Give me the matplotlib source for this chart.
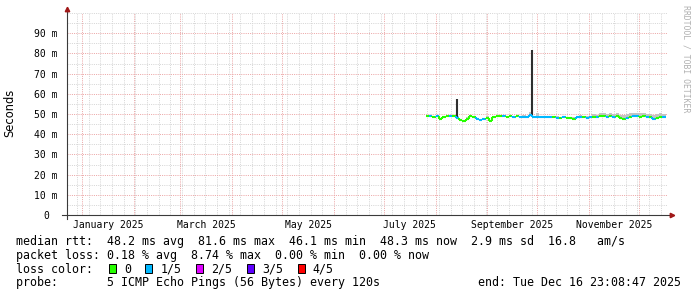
import numpy as np
import pandas as pd
import matplotlib
matplotlib.use("Agg")
import matplotlib.pyplot as plt
import matplotlib.dates as mdates
from matplotlib.ticker import MultipleLocator
from matplotlib.patches import Rectangle
from matplotlib.transforms import blended_transform_factory

# --- data --------------------------------------------------------------
end_time = pd.Timestamp("2025-12-16 23:08:47")
view_start = end_time - pd.Timedelta(days=359)
view_end = end_time + pd.Timedelta(hours=19)

sample_start = "2025-07-26"   # first consolidated sample, 2 day steps
rtt_median = [48.9, 49.1, 48.7, 48.9, 47.4, 48.6, 49.0, 48.8, 49.0, 48.2,
              46.9, 46.5, 47.6, 48.9, 48.7, 47.3, 47.0, 47.4, 48.2, 46.3,
              48.6, 48.9, 48.8, 49.0, 48.7, 48.9, 48.6, 48.8, 48.5, 48.7,
              48.4, 49.3, 48.4, 48.5, 48.3, 48.4, 48.6, 48.3, 48.5, 48.2,
              48.0, 48.4, 47.8, 48.0, 47.6, 48.3, 48.6, 48.4, 48.2, 48.5,
              48.7, 48.3, 48.9, 49.0, 48.6, 48.9, 48.7, 48.8, 47.8, 47.5,
              48.2, 48.6, 48.8, 48.9, 48.7, 49.0, 48.5, 48.3, 47.3, 48.0,
              48.6, 48.3]
rtt_smoke = [49.4, 49.6, 49.2, 49.4, 48.2, 49.1, 49.5, 49.3, 49.5, 49.0,
             47.6, 47.2, 48.3, 49.4, 49.2, 48.0, 47.7, 48.1, 48.8, 47.1,
             49.1, 49.4, 49.3, 49.5, 49.2, 49.4, 49.1, 49.3, 49.0, 49.3,
             49.2, 51.0, 49.0, 50.6, 48.9, 49.0, 49.2, 48.9, 49.1, 48.8,
             48.7, 49.0, 48.5, 48.7, 48.3, 49.0, 49.4, 49.1, 48.9, 49.2,
             49.8, 49.6, 50.3, 50.5, 50.1, 50.4, 50.2, 50.5, 49.6, 49.4,
             50.0, 50.3, 50.4, 50.6, 50.3, 50.7, 50.2, 50.1, 49.5, 49.9,
             50.4, 49.8]
loss_level = [0, 1, 0, 1, 0, 0, 0, 1, 0, 1,
              0, 0, 0, 0, 0, 1, 1, 1, 0, 0,
              0, 0, 0, 1, 0, 0, 1, 0, 1, 1,
              1, 1, 1, 1, 1, 1, 1, 1, 0, 1,
              0, 1, 0, 0, 0, 1, 1, 0, 1, 1,
              0, 1, 0, 0, 1, 0, 1, 0, 0, 0,
              1, 0, 1, 1, 0, 0, 1, 0, 1, 0,
              0, 1]

spike_dates = ["2025-08-13 18:00", "2025-09-28 00:00"]
spike_bases = [47.5, 48.5]
spike_tops = [57.6, 81.6]

loss_labels = ["0", "1/5", "2/5", "3/5", "4/5"]
loss_colors = ["#26ff00", "#00b8ff", "#dd00ff", "#5e00ff", "#ff0000"]

month_labels = ["2025-01", "2025-03", "2025-05", "2025-07", "2025-09", "2025-11"]
y_ticks = [0, 10, 20, 30, 40, 50, 60, 70, 80, 90]

rtt_stats = [48.2, 81.6, 46.1, 48.3, 2.9, 16.8]
loss_stats = [0.18, 8.74, 0.00, 0.00]

# --- figure ---------------------------------------------------------------
W, H = 697, 297
fig = plt.figure(figsize=(W / 100, H / 100), dpi=100)
fig.patch.set_facecolor("white")
L, R, T, B = 67, 667, 13, 215
ax = fig.add_axes([L / W, 1 - B / H, (R - L) / W, (B - T) / H])
ax.set_facecolor("white")

mono = "DejaVu Sans Mono"

times = pd.date_range(sample_start, periods=len(rtt_median), freq="2D")
t = mdates.date2num(times)
t_edges = np.append(t, t[-1] + 2)

# smoke
ax.fill_between(t_edges, np.append(rtt_median, rtt_median[-1]),
                np.append(rtt_smoke, rtt_smoke[-1]), step="post",
                color="#c4c4c4", lw=0, zorder=2)
ax.vlines(mdates.date2num(pd.to_datetime(spike_dates)), spike_bases, spike_tops,
          color="#2e2e2e", lw=1.5, zorder=3)

# median line coloured by loss
for i, v in enumerate(rtt_median):
    c = loss_colors[loss_level[i]]
    ax.plot([t_edges[i], t_edges[i + 1]], [v, v], color=c, lw=1.5,
            solid_capstyle="butt", zorder=4)
    if i > 0:
        ax.plot([t_edges[i], t_edges[i]], [rtt_median[i - 1], v], color=c,
                lw=1.5, solid_capstyle="butt", zorder=4)

ax.set_xlim(mdates.date2num(view_start), mdates.date2num(view_end))
ax.set_ylim(0, 100)

# grid
ax.xaxis.set_major_locator(mdates.MonthLocator())
ax.xaxis.set_minor_locator(mdates.WeekdayLocator(byweekday=mdates.SU))
ax.set_yticks(y_ticks)
ax.yaxis.set_minor_locator(MultipleLocator(5))
dots = (0, (1, 1.2))
ax.grid(which="minor", color="#d6d6d6", ls=dots, lw=0.72)
ax.grid(which="major", color="#eca6a6", ls=dots, lw=0.72)
ax.set_axisbelow(True)
ax.set_xticklabels([])
ax.tick_params(which="both", length=0)
ax.set_yticklabels([f"{v} m" if v else "0" for v in y_ticks],
                   fontfamily=mono, fontsize=7)
ax.tick_params(axis="y", pad=15)
for lab in ax.get_yticklabels():
    lab.set_horizontalalignment("center")
for s in ax.spines.values():
    s.set_visible(False)

# axes with arrows
axc = "#3a3a3a"
arrow = "#a01818"
ax.plot([-5 / 600, 1 + 3 / 600], [0, 0], transform=ax.transAxes,
        clip_on=False, color=axc, lw=0.8, zorder=5)
ax.plot([0, 0], [-4 / 202, 1 + 2 / 202], transform=ax.transAxes,
        clip_on=False, color=axc, lw=0.8, zorder=5)
ax.plot([1 + 5 / 600], [0], marker=">", ms=3.2, color=arrow,
        transform=ax.transAxes, clip_on=False, zorder=6)
ax.plot([0], [1 + 4 / 202], marker="^", ms=3.2, color=arrow,
        transform=ax.transAxes, clip_on=False, zorder=6)

# month labels centred on the month
trans = blended_transform_factory(ax.transData, ax.transAxes)
for m in month_labels:
    m0 = pd.Timestamp(m + "-01")
    mid = m0 + (m0 + pd.offsets.MonthBegin(1) - m0) / 2
    ax.text(mdates.date2num(mid), -10 / 202, m0.strftime("%B %Y"),
            transform=trans, ha="center", va="center",
            fontfamily=mono, fontsize=7)

fig.text(10 / W, 1 - 113 / H, "Seconds", rotation=90, ha="center",
         va="center", fontsize=8.3)
fig.text(686 / W, 1 - 59 / H, "RRDTOOL / TOBI OETIKER", rotation=270,
         ha="center", va="center", fontfamily=mono, fontsize=5.9,
         color="#b0b0b0")

# legend text
fs = 8.4
x0 = 16 / W
fig.text(x0, 1 - 241.7 / H,
         "median rtt:  %.1f ms avg  %.1f ms max  %.1f ms min  %.1f ms now"
         "  %.1f ms sd  %.1f   am/s" % tuple(rtt_stats),
         fontfamily=mono, fontsize=fs, va="center")
fig.text(x0, 1 - 255 / H,
         "packet loss: %.2f %% avg  %.2f %% max  %.2f %% min  %.2f %% now"
         % tuple(loss_stats),
         fontfamily=mono, fontsize=fs, va="center")
fig.text(x0, 1 - 269.3 / H, "loss color:", fontfamily=mono, fontsize=fs,
         va="center")
bx = 108.7
for lab, col in zip(loss_labels, loss_colors):
    fig.add_artist(Rectangle((bx / W, 1 - 273 / H), 7 / W, 9 / H,
                             transform=fig.transFigure, facecolor=col,
                             edgecolor="black", lw=0.7))
    fig.text((bx + 15.2) / W, 1 - 269.3 / H, lab, fontfamily=mono,
             fontsize=fs, va="center")
    bx = bx + 15.2 + len(lab) * 7.02 + 14.5
fig.text(x0, 1 - 282.7 / H,
         "probe:       5 ICMP Echo Pings (56 Bytes) every 120s",
         fontfamily=mono, fontsize=fs, va="center")
fig.text(681 / W, 1 - 282.7 / H,
         "end: " + end_time.strftime("%a %b %d %H:%M:%S %Y"),
         fontfamily=mono, fontsize=fs, va="center", ha="right")

fig.savefig("out.png", dpi=100)
